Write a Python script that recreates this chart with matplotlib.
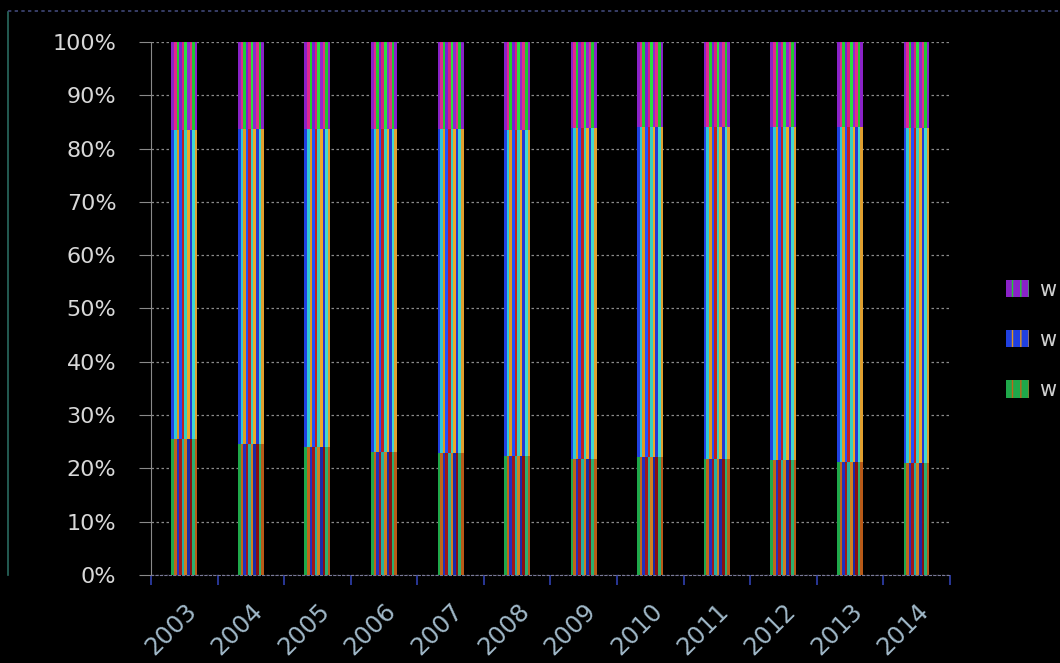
import matplotlib
matplotlib.use('Agg')
import matplotlib.pyplot as plt
from matplotlib.patches import Patch
from matplotlib.ticker import FixedLocator, PercentFormatter
import numpy as np

years = ['2003', '2004', '2005', '2006', '2007', '2008',
         '2009', '2010', '2011', '2012', '2013', '2014']
# shares of each series per year, in percent
share_bottom = [25.5, 24.6, 24.0, 23.1, 22.8, 22.3, 21.7, 22.1, 21.7, 21.5, 21.2, 21.0]
share_middle = [58.0, 59.0, 59.6, 60.5, 60.8, 61.2, 62.1, 61.9, 62.3, 62.5, 62.8, 62.9]
share_top = [16.5, 16.4, 16.4, 16.4, 16.4, 16.5, 16.2, 16.0, 16.0, 16.0, 16.0, 16.1]
series_labels = ['w', 'w', 'w']

# stripe palettes for each series (bottom, middle, top)
stripes = [
    ['#1fa84a', '#c0651a', '#2230c0', '#a01818', '#26b0a0', '#d08020', '#1a2aa8', '#8a1010', '#2bb070', '#b85a18'],
    ['#2040e0', '#30c8d8', '#e09a20', '#2050ff', '#c02020', '#38d0c0', '#f0a828', '#2838d0', '#40d8d0', '#e0a030'],
    ['#8a22c8', '#e02890', '#20d030', '#7a20d0', '#d82080', '#28e040', '#9028d0', '#e03088', '#20c830', '#8a22c8'],
]

bg = '#000000'
fig = plt.figure(figsize=(10.6, 6.63), dpi=100, facecolor=bg)
ax = fig.add_axes([0.1425, 0.1327, 0.7535, 0.804])
ax.set_facecolor(bg)

x = np.arange(len(years))
data = np.array([share_bottom, share_middle, share_top])
data = data / data.sum(axis=0) * 100
bar_w = 0.39
n_str = 10
sw = bar_w / n_str

bottom = np.zeros(len(years))
for s in range(3):
    for k in range(n_str):
        xs = x - bar_w / 2 + sw * (k + 0.5)
        ax.bar(xs, data[s], sw, bottom=bottom, color=stripes[s][k], linewidth=0, zorder=3)
    bottom += data[s]

ax.set_xlim(-0.5, len(years) - 0.5)
ax.set_ylim(0, 100)
ax.yaxis.set_major_locator(FixedLocator(np.arange(0, 101, 10)))
ax.yaxis.set_major_formatter(PercentFormatter(decimals=0))
ax.grid(axis='y', color='#8a8a8a', linestyle=(0, (2, 2)), linewidth=0.9, zorder=1)

ax.set_xticks(x)
ax.set_xticklabels(years, rotation=45, ha='right', rotation_mode='anchor')
ax.set_xticks(np.arange(-0.5, len(years)), minor=True)
ax.tick_params(axis='x', which='major', length=0, pad=17, labelsize=17.5, labelcolor='#a0b8c8')
ax.tick_params(axis='x', which='minor', length=7, width=1.2, color='#3040b0')
ax.tick_params(axis='y', length=9, color='#8a8a8a', labelsize=16, labelcolor='#d8d8d8', pad=16)

for side in ['top', 'right']:
    ax.spines[side].set_visible(False)
ax.spines['left'].set_color('#8a8a8a')
ax.spines['bottom'].set_color('#7a7a9a')
ax.spines['bottom'].set_linestyle((0, (2, 2)))

# legend swatches carry the striped look through hatching
handles = [
    Patch(facecolor=stripes[2][0], edgecolor=stripes[2][2], hatch='||', linewidth=0),
    Patch(facecolor=stripes[1][0], edgecolor=stripes[1][2], hatch='||', linewidth=0),
    Patch(facecolor=stripes[0][0], edgecolor=stripes[0][1], hatch='||', linewidth=0),
]
leg = fig.legend(handles, series_labels[::-1], loc='center left',
                 bbox_to_anchor=(987 / 1060, 1 - 340 / 663), frameon=False,
                 fontsize=15, labelcolor='#d0d0d0', handlelength=1.1, handleheight=0.9,
                 handletextpad=0.5, labelspacing=1.45)

# thin border of the chart area
fig.add_artist(plt.Line2D([8 / 1060, 8 / 1060], [1 - 12 / 663, 1 - 575 / 663],
                          transform=fig.transFigure, color='#2a6a60', linewidth=1.2))
fig.add_artist(plt.Line2D([8 / 1060, 1], [1 - 11 / 663, 1 - 11 / 663],
                          transform=fig.transFigure, color='#404878', linewidth=1.2,
                          linestyle=(0, (2, 2))))

fig.savefig('out.png', dpi=100, facecolor=bg)
